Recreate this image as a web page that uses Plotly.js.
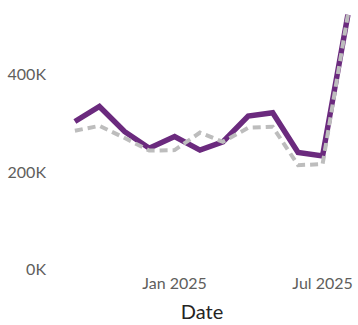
<!DOCTYPE html>
<html><head><meta charset="utf-8">
<script src="https://cdn.plot.ly/plotly-3.0.1.min.js"></script>
<style>html,body{margin:0;padding:0;background:#fff}#chart{width:358px;height:325px}</style>
</head><body><div id="chart"></div>
<script>
const dates = ["2024-09-01","2024-10-01","2024-11-01","2024-12-01","2025-01-01","2025-02-01","2025-03-01","2025-04-01","2025-05-01","2025-06-01","2025-07-01","2025-08-01"];
const actual = [304000,335000,283000,249000,273000,245000,262000,315000,322000,240000,233000,524000];
const comparison = [285000,295000,270000,244000,245000,281000,262000,291000,293000,214000,216000,524000];
const tickVals = ["2025-01-01","2025-07-01"];
const tickText = ["Jan 2025","Jul 2025"];
const yTicks = [0,200000,400000];
const yText = ["0K","200K","400K"];

const font = "'Segoe UI', Lato, 'Open Sans', sans-serif";
Plotly.newPlot('chart', [
  {x: dates, y: actual, type: 'scatter', mode: 'lines', line: {color: '#6B2A7E', width: 5.5}, hoverinfo: 'none'},
  {x: dates, y: comparison, type: 'scatter', mode: 'lines', line: {color: '#BDBDBD', width: 4, dash: '8px,5px'}, hoverinfo: 'none'}
], {
  width: 358, height: 325,
  margin: {l: 52, r: 6, t: 5, b: 56},
  showlegend: false,
  paper_bgcolor: '#fff', plot_bgcolor: '#fff',
  xaxis: {type: 'date', range: ['2024-08-04','2025-08-06'], tickvals: tickVals, ticktext: tickText,
    showgrid: false, zeroline: false, showline: false, ticks: '', ticklabelstandoff: 3,
    tickfont: {family: font, size: 16, color: '#605E5C'},
    title: {text: 'Date', font: {family: font, size: 20, color: '#252423'}, standoff: 13}},
  yaxis: {range: [0, 544000], tickvals: yTicks, ticktext: yText, showgrid: false, zeroline: false,
    showline: false, ticks: '', ticklabelstandoff: 5, tickfont: {family: font, size: 16, color: '#605E5C'}}
}, {displayModeBar: false, staticPlot: true});
</script></body></html>
